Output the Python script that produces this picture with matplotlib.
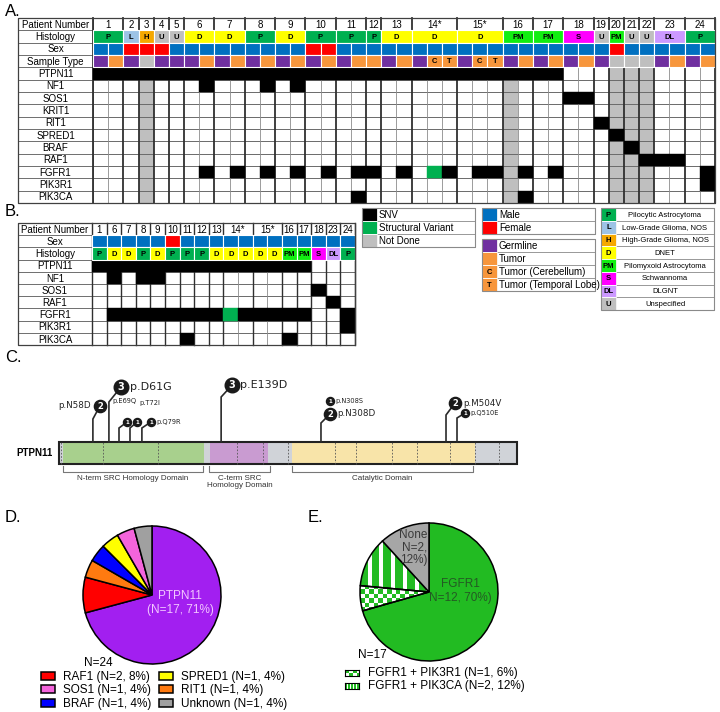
import numpy as np
import matplotlib
matplotlib.use('Agg')
import matplotlib.pyplot as plt
from matplotlib.patches import Rectangle
from matplotlib.colors import ListedColormap

plt.rcParams['font.family'] = ['Liberation Sans', 'DejaVu Sans']

W, H = 720, 712

# ---------------- data ----------------
patients_A = ['1', '2', '3', '4', '5', '6', '7', '8', '9', '10', '11', '12',
              '13', '14*', '15*', '16', '17', '18', '19', '20', '21', '22', '23', '24']
histology_A = ['P', 'L', 'H', 'U', 'U', 'D', 'D', 'P', 'D', 'P', 'P', 'P',
               'D', 'D', 'D', 'PM', 'PM', 'S', 'U', 'PM', 'U', 'U', 'DL', 'P']
sex_A = 'MFFFMMMMMFMMMMMMMMMFMMMM'
# G germline, T tumor, C tumor (cerebellum), L tumor (temporal lobe), N not done
samples_A = 'GT|G|N|G|G|GT|GT|GT|GT|GT|GT|T|GT|GCL|GCL|GT|GT|GT|G|N|N|N|GT|GT'
genes_A = ['PTPN11', 'NF1', 'SOS1', 'KRIT1', 'RIT1', 'SPRED1', 'BRAF', 'RAF1',
           'FGFR1', 'PIK3R1', 'PIK3CA']
# S = SNV, V = structural variant, N = not done, . = none
calls_A = [
    'SS|S|S|S|S|SS|SS|SS|SS|SS|SS|S|SS|SSS|SSS|SS|SS|..|.|N|N|N|..|..',
    '..|.|N|.|.|.S|..|.S|.S|..|..|.|..|...|...|N.|..|..|.|N|N|N|..|..',
    '..|.|N|.|.|..|..|..|..|..|..|.|..|...|...|N.|..|SS|.|N|N|N|..|..',
    '..|.|N|.|.|..|..|..|..|..|..|.|..|...|...|N.|..|..|.|N|N|N|..|..',
    '..|.|N|.|.|..|..|..|..|..|..|.|..|...|...|N.|..|..|S|N|N|N|..|..',
    '..|.|N|.|.|..|..|..|..|..|..|.|..|...|...|N.|..|..|.|S|N|N|..|..',
    '..|.|N|.|.|..|..|..|..|..|..|.|..|...|...|N.|..|..|.|N|S|N|..|..',
    '..|.|N|.|.|..|..|..|..|..|..|.|..|...|...|N.|..|..|.|N|N|S|SS|..',
    '..|.|N|.|.|.S|.S|.S|.S|.S|.S|S|.S|.VS|.SS|NS|.S|..|.|N|N|N|..|.S',
    '..|.|N|.|.|..|..|..|..|..|..|.|..|...|...|N.|..|..|.|N|N|N|..|.S',
    '..|.|N|.|.|..|..|..|..|..|.S|.|..|...|...|NS|..|..|.|N|N|N|..|..',
]

patients_B = ['1', '6', '7', '8', '9', '10', '11', '12', '13', '14*', '15*',
              '16', '17', '18', '23', '24']
sex_B = 'MMMMMFMMMMMMMMMM'
histology_B = ['P', 'D', 'D', 'P', 'D', 'P', 'P', 'P', 'D', 'D', 'D', 'D', 'D',
               'PM', 'PM', 'S', 'DL', 'P']
genes_B = ['PTPN11', 'NF1', 'SOS1', 'RAF1', 'FGFR1', 'PIK3R1', 'PIK3CA']
calls_B = [
    'S|S|S|S|S|S|S|S|S|SS|SS|S|S|.|.|.',
    '.|S|.|S|S|.|.|.|.|..|..|.|.|.|.|.',
    '.|.|.|.|.|.|.|.|.|..|..|.|.|S|.|.',
    '.|.|.|.|.|.|.|.|.|..|..|.|.|.|S|.',
    '.|S|S|S|S|S|S|S|S|VS|SS|S|S|.|.|S',
    '.|.|.|.|.|.|.|.|.|..|..|.|.|.|.|S',
    '.|.|.|.|.|.|S|.|.|..|..|S|.|.|.|.',
]

hist_names = [('P', 'Pilocytic Astrocytoma'), ('L', 'Low-Grade Glioma, NOS'),
              ('H', 'High-Grade Glioma, NOS'), ('D', 'DNET'),
              ('PM', 'Pilomyxoid Astrocytoma'), ('S', 'Schwannoma'),
              ('DL', 'DLGNT'), ('U', 'Unspecified')]

# PTPN11 lollipop (positions along the drawn protein track, 0-100)
track_edges = [0, 0.9, 31.7, 33.0, 45.6, 50.9, 90.8, 100]
track_kind = ['other', 'sh2n', 'other', 'sh2c', 'other', 'ptp', 'other']
exon_marks = [0.4, 9.6, 21.6, 38.9, 44.5, 50.0, 60.3, 64.8, 72.7, 78.2, 85.4, 90.8, 96.1]
domains = [('N-term SRC Homology Domain', 0.9, 31.4),
           ('C-term SRC\nHomology Domain', 32.8, 46.1),
           ('Catalytic Domain', 50.9, 90.4)]
mut_names = ['p.N58D', 'p.D61G', 'p.E69Q', 'p.T72I', 'p.Q79R', 'p.E139D',
             'p.N308D', 'p.N308S', 'p.M504V', 'p.Q510E']
mut_counts = [2, 3, 1, 1, 1, 3, 2, 1, 2, 1]
mut_pos = [7.4, 10.9, 13.1, 15.5, 18.1, 35.4, 57.2, 57.2, 84.5, 86.9]

# panel D
d_labels = ['PTPN11', 'RAF1', 'RIT1', 'BRAF', 'SPRED1', 'SOS1', 'Unknown']
d_counts = [17, 2, 1, 1, 1, 1, 1]
d_legend = {'RAF1': 'RAF1 (N=2, 8%)', 'SOS1': 'SOS1 (N=1, 4%)', 'BRAF': 'BRAF (N=1, 4%)',
            'SPRED1': 'SPRED1 (N=1, 4%)', 'RIT1': 'RIT1 (N=1, 4%)',
            'Unknown': 'Unknown (N=1, 4%)'}
d_legend_order = ['RAF1', 'SOS1', 'BRAF', 'SPRED1', 'RIT1', 'Unknown']

# panel E
e_labels = ['FGFR1', 'FGFR1 + PIK3R1', 'FGFR1 + PIK3CA', 'None']
e_counts = [12, 1, 2, 2]
e_legend = ['FGFR1 + PIK3R1 (N=1, 6%)', 'FGFR1 + PIK3CA (N=2, 12%)']

# ---------------- styles ----------------
hist_colors = {'P': '#00b050', 'L': '#9dc3e6', 'H': '#f5a800', 'D': '#ffff00',
               'PM': '#11ee11', 'S': '#ff00ff', 'DL': '#cc99ff', 'U': '#bfbfbf'}
sex_colors = {'M': '#0070c0', 'F': '#ff0000'}
sample_colors = {'G': '#7030a0', 'T': '#f7963c', 'C': '#f7963c', 'L': '#f7963c',
                 'N': '#bfbfbf'}
sample_letters = {'C': 'C', 'L': 'T'}
call_colors = {'S': 'black', 'V': '#00b050'}
NOT_DONE = '#bfbfbf'

fig = plt.figure(figsize=(W / 100, H / 100), dpi=100)


def px_axes(x0, y0, x1, y1):
    ax = fig.add_axes([x0 / W, 1 - y1 / H, (x1 - x0) / W, (y1 - y0) / H])
    return ax


def draw_table(x0, y0, xs, x1, y1, patients, headers, genes, calls, thick_lw):
    groups = [len(g) for g in calls[0].split('|')]
    ncol = sum(groups)
    nrow = 1 + len(headers) + len(genes)
    cw = (x1 - xs) / ncol
    lab_w = (xs - x0) / cw
    ax = px_axes(x0, y0, x1, y1)
    ax.set_xlim(-lab_w, ncol)
    ax.set_ylim(nrow, 0)
    ax.axis('off')
    starts = np.concatenate([[0], np.cumsum(groups)[:-1]])
    bounds = set(np.cumsum(groups).tolist()) | {0}
    names = ['Patient Number'] + [h[0] for h in headers] + genes
    for r, name in enumerate(names):
        ax.add_patch(Rectangle((-lab_w, r), lab_w, 1, fc='white', ec='#707070',
                               lw=0.7, clip_on=False))
        ax.text(-lab_w / 2, r + 0.55, name, ha='center', va='center', fontsize=7)
    g0 = 1 + len(headers)
    for r, row in enumerate(calls):
        for c, code in enumerate(row.replace('|', '')):
            if code == 'N':
                ax.add_patch(Rectangle((c, g0 + r), 1, 1, fc=NOT_DONE, ec='none', zorder=1))
    for r in range(g0, nrow + 1):
        ax.plot([0, ncol], [r, r], color='#6a6a6a', lw=0.7, zorder=2, clip_on=False)
    for c in range(ncol + 1):
        if c in bounds:
            ax.plot([c, c], [0, nrow], color='#303030', lw=thick_lw, zorder=2, clip_on=False)
        else:
            ax.plot([c, c], [g0, nrow], color='#8c8c8c', lw=0.6, zorder=2, clip_on=False)
    for r, row in enumerate(calls):
        for c, code in enumerate(row.replace('|', '')):
            if code in call_colors:
                col = call_colors[code]
                ax.add_patch(Rectangle((c, g0 + r), 1, 1, fc=col, ec=col, lw=0.3, zorder=3))
    for s, g, p in zip(starts, groups, patients):
        ax.text(s + g / 2, 0.55, p, ha='center', va='center', fontsize=7)
    for hr, (name, values, colors, letters, merged) in enumerate(headers):
        r = 1 + hr
        if merged:
            cells = [(s, g, v) for s, g, v in zip(starts, groups, values)]
        else:
            cells = [(c, 1, v) for c, v in enumerate(values)]
        for s, g, v in cells:
            ax.add_patch(Rectangle((s, r), g, 1, fc=colors[v], ec='white', lw=0.8, zorder=4))
            if v in letters:
                ax.text(s + g / 2, r + 0.55, letters[v], ha='center', va='center',
                        fontsize=5.5, fontweight='bold', zorder=5)
    ax.add_patch(Rectangle((-lab_w, 0), ncol + lab_w, nrow, fill=False, ec='#404040',
                           lw=0.9, zorder=6, clip_on=False))
    return ax


def legend_box(x0, y0, x1, y1, entries, sw, fs, centered=False):
    ax = px_axes(x0, y0, x1, y1)
    n = len(entries)
    w = x1 - x0
    ax.set_xlim(0, w)
    ax.set_ylim(n, 0)
    ax.axis('off')
    for i, (color, letter, text) in enumerate(entries):
        ax.add_patch(Rectangle((sw, i), w - sw, 1, fc='white', ec='#9a9a9a', lw=0.7,
                               clip_on=False))
        ax.add_patch(Rectangle((0, i), sw, 1, fc=color, ec='white', lw=0.6, clip_on=False))
        if letter:
            ax.text(sw / 2, i + 0.55, letter, ha='center', va='center', fontsize=5.5,
                    fontweight='bold')
        if centered:
            ax.text((sw + w) / 2, i + 0.55, text, ha='center', va='center', fontsize=fs)
        else:
            ax.text(sw + 2, i + 0.55, text, ha='left', va='center', fontsize=fs)
    ax.add_patch(Rectangle((0, 0), w, n, fill=False, ec='#8a8a8a', lw=0.8, clip_on=False))


# ---------------- panel A ----------------
cols_A = samples_A.split('|')
sex_cols_A = [s for s, grp in zip(sex_A, cols_A) for _ in grp]
headers_A = [('Histology', histology_A, hist_colors, {k: k for k in hist_colors}, True),
             ('Sex', sex_cols_A, sex_colors, {}, False),
             ('Sample Type', list(samples_A.replace('|', '')), sample_colors,
              sample_letters, False)]
draw_table(18, 18, 93, 715, 203, patients_A, headers_A, genes_A, calls_A, 1.3)

# ---------------- panel B ----------------
cols_B = calls_B[0].split('|')
sex_cols_B = [s for s, grp in zip(sex_B, cols_B) for _ in grp]
headers_B = [('Sex', sex_cols_B, sex_colors, {}, False),
             ('Histology', histology_B, hist_colors, {k: k for k in hist_colors}, False)]
draw_table(18, 223, 92, 355, 345, patients_B, headers_B, genes_B, calls_B, 1.0)

# legends
legend_box(362, 208, 475, 247, [('black', '', 'SNV'), ('#00b050', '', 'Structural Variant'),
                                 (NOT_DONE, '', 'Not Done')], 15, 7)
legend_box(482, 208, 595, 234, [(sex_colors['M'], '', 'Male'),
                                 (sex_colors['F'], '', 'Female')], 15, 7)
legend_box(482, 239, 595, 291, [(sample_colors['G'], '', 'Germline'),
                                 (sample_colors['T'], '', 'Tumor'),
                                 (sample_colors['C'], 'C', 'Tumor (Cerebellum)'),
                                 (sample_colors['L'], 'T', 'Tumor (Temporal Lobe)')], 15, 7)
legend_box(601, 208, 714, 310, [(hist_colors[k], k, t) for k, t in hist_names], 15, 5.5,
           centered=True)

# ---------------- panel C ----------------
kind_colors = {'other': '#d0d3d8', 'sh2n': '#a8d08d', 'sh2c': '#c99bd1', 'ptp': '#f8e4a9'}
axc = px_axes(59, 370, 517, 495)
axc.set_xlim(0, 100)
axc.set_ylim(-31, 94)
axc.axis('off')
PXU = 4.58  # pixels per track unit
bar_h = 22
for a, b, k in zip(track_edges[:-1], track_edges[1:], track_kind):
    axc.add_patch(Rectangle((a, 0), b - a, bar_h, fc=kind_colors[k], ec='none'))
axc.vlines(exon_marks, 0, bar_h, colors='#555555', lw=0.6, linestyles=(0, (2, 2)))
axc.add_patch(Rectangle((0, 0), 100, bar_h, fill=False, ec='#222222', lw=1.5, clip_on=False))
axc.text(-1.3, bar_h / 2, 'PTPN11', ha='right', va='center', fontsize=7, fontweight='bold')
for name, a, b in domains:
    axc.plot([a, a, b, b], [-1.5, -8, -8, -1.5], color='#777777', lw=0.8)
    axc.text((a + b) / 2, -11, name, ha='center', va='top', fontsize=5.8, color='#333333',
             linespacing=1.0)

# layout: elbow height, head height (px above bar), head shift (px), label dx, dy (px), ha, fontsize
lolli_layout = {
    'p.N58D': (23, 36, 7, -9, 0, 'right', 6.3),
    'p.D61G': (40, 55, 12, 9, 0, 'left', 8),
    'p.E69Q': (14, 20, 8, -3, 21, 'center', 4.8),
    'p.T72I': (14, 20, 7, 13, 19, 'center', 4.8),
    'p.Q79R': (14, 20, 9, 5, 0, 'left', 4.8),
    'p.E139D': (45, 57, 11, 8, 0, 'left', 8),
    'p.N308D': (19, 28, 9, 7, 0, 'left', 6.3),
    'p.N308S': (None, 41, 9, 5, 0, 'left', 4.8),
    'p.M504V': (27, 39, 9, 8, 0, 'left', 6.3),
    'p.Q510E': (24, 29, 8, 5, 0, 'left', 4.8),
}
head_ms = {1: 5.8, 2: 8.8, 3: 10.5}
head_fs = {1: 4, 2: 6, 3: 7}
for name, n, x in zip(mut_names, mut_counts, mut_pos):
    eh, hh, dx, lx, ly, ha, fs = lolli_layout[name]
    hx = x + dx / PXU
    hy = bar_h + hh
    if eh is not None:
        axc.plot([x, x, hx], [bar_h, bar_h + eh, hy], color='#2a2a2a', lw=1.2,
                 solid_joinstyle='miter', zorder=3)
    axc.plot(hx, hy, 'o', ms=head_ms[n], color='#1a1a1a', mec='#1a1a1a', zorder=4,
             clip_on=False)
    axc.text(hx, hy - 0.3, str(n), ha='center', va='center', color='white',
             fontsize=head_fs[n], fontweight='bold', family='DejaVu Sans', zorder=5)
    axc.text(hx + lx / PXU, hy + ly, name, ha=ha, va='center', fontsize=fs,
             family='DejaVu Sans', color='#222222', clip_on=False)

# ---------------- panel D ----------------
d_colors = ['#a21ff0', '#ff0000', '#ff7a10', '#0000ff', '#ffff00', '#f464dc', '#a0a0a0']
R = 69
axd = px_axes(152 - R, 595 - R, 152 + R, 595 + R)
wd, _ = axd.pie(d_counts, colors=d_colors, startangle=90, counterclock=False,
                wedgeprops=dict(edgecolor='black', linewidth=1.1))
for w in wd:
    w.set_clip_on(False)
axd.set_xlim(-1, 1)
axd.set_ylim(-1, 1)
axd.text(0.41, -0.12, 'PTPN11\n(N=17, 71%)', ha='center', va='center', fontsize=8.5,
         color='#f2c6ff', linespacing=1.2)
fig.text(84 / W, 1 - 663 / H, 'N=24', ha='left', va='center', fontsize=8.5)
fig.legend([wd[d_labels.index(k)] for k in d_legend_order],
           [d_legend[k] for k in d_legend_order], ncol=2, loc='upper left',
           bbox_to_anchor=(41 / W, 1 - 671 / H), frameon=False, fontsize=8.5,
           handlelength=1.2, handleheight=0.7, handletextpad=0.7, columnspacing=0.6,
           labelspacing=0.12, borderpad=0, borderaxespad=0)

# ---------------- panel E ----------------
green = '#22bb22'
e_colors = [green, 'none', 'none', '#a6a6a6']
axe = px_axes(429 - R, 592 - R, 429 + R, 592 + R)
we, _ = axe.pie(e_counts, colors=e_colors, startangle=90, counterclock=False,
                wedgeprops=dict(edgecolor='black', linewidth=1.1))
for w in we:
    w.set_clip_on(False)
    w.set_zorder(3)
tex_cmap = ListedColormap(['white', green])
g = np.linspace(-1, 1, 600)
gx, gy = np.meshgrid(g, g)
stripes = ((gx + 1) % 0.17 < 0.11).astype(float)
checker = ((np.floor((gx + 1) / 0.065) + np.floor((gy + 1) / 0.065)) % 2).astype(float)
for tex, w in [(checker, we[1]), (stripes, we[2])]:
    im = axe.imshow(tex, extent=(-1, 1, -1, 1), origin='lower', cmap=tex_cmap,
                    interpolation='nearest', zorder=1, vmin=0, vmax=1)
    im.set_clip_path(w)
axe.set_xlim(-1, 1)
axe.set_ylim(-1, 1)
axe.axis('off')
axe.text(0.45, 0.02, 'FGFR1\nN=12, 70%)', ha='center', va='center', fontsize=8.5,
         color='#245a24', linespacing=1.2)
axe.text(-0.02, 0.64, 'None\nN=2,\n12%)', ha='right', va='center', fontsize=8.5,
         color='#3a3a3a', linespacing=1.05)
fig.text(358 / W, 1 - 655 / H, 'N=17', ha='left', va='center', fontsize=8.5)
for i, (tex, lab) in enumerate(zip([checker, stripes], e_legend)):
    yc = 673 + 13 * i
    axs = px_axes(345, yc - 3, 359, yc + 3)
    axs.imshow(tex[:200, :480], extent=(0, 1, 0, 1), origin='lower', cmap=tex_cmap,
               interpolation='nearest', aspect='auto', vmin=0, vmax=1)
    axs.set_xticks([])
    axs.set_yticks([])
    for sp in axs.spines.values():
        sp.set_linewidth(0.8)
    fig.text(368 / W, 1 - yc / H, lab, ha='left', va='center', fontsize=8.5)

# panel letters
for letter, x, y in [('A.', 5, 12), ('B.', 5, 211), ('C.', 5, 357), ('D.', 5, 517),
                     ('E.', 308, 517)]:
    fig.text(x / W, 1 - y / H, letter, ha='left', va='center', fontsize=12)

fig.savefig('out.png', dpi=100, facecolor='white')
